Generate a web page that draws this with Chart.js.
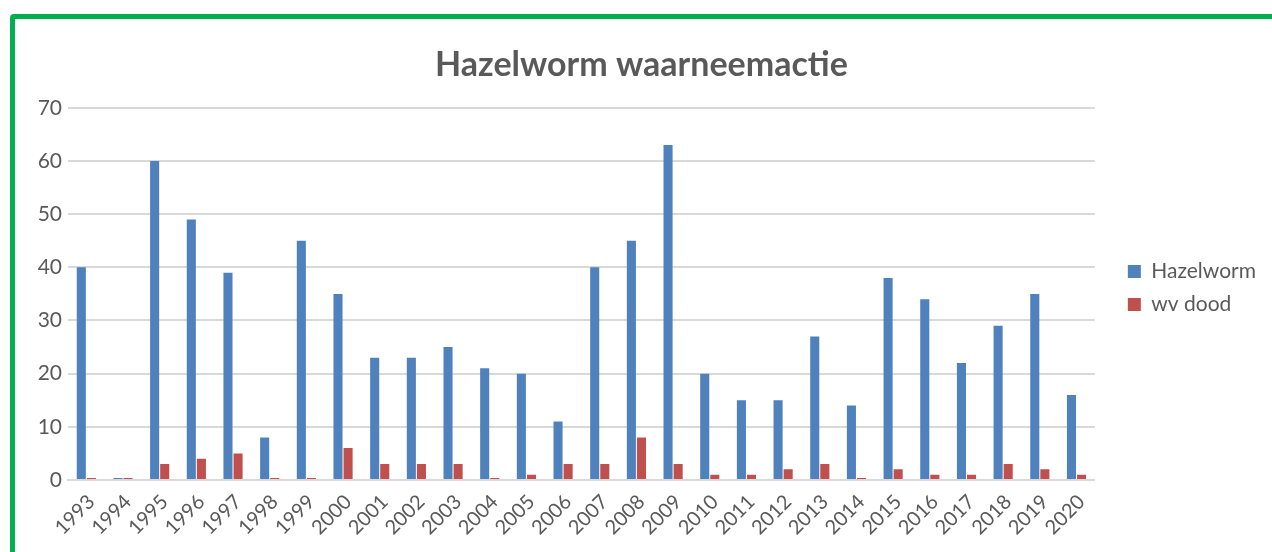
<!DOCTYPE html>
<html>
<head>
<meta charset="utf-8">
<script src="https://cdn.jsdelivr.net/npm/chart.js@4"></script>
<style>
  html, body { margin: 0; padding: 0; background: #fff; overflow: hidden; }
  #wrap { position: relative; width: 1272px; height: 552px; }
  #frame {
    position: absolute; left: 10px; top: 14px; width: 1300px; height: 600px;
    border: 5px solid #00b050; border-radius: 4px; pointer-events: none;
  }
  canvas { position: absolute; left: 0; top: 0; }
</style>
</head>
<body>
<div id="wrap">
  <canvas id="bar-chart" width="1272" height="552"></canvas>
  <div id="frame"></div>
</div>
<script>
const years = ['1993', '1994', '1995', '1996', '1997', '1998', '1999', '2000', '2001', '2002',
  '2003', '2004', '2005', '2006', '2007', '2008', '2009', '2010', '2011', '2012',
  '2013', '2014', '2015', '2016', '2017', '2018', '2019', '2020']
const hazelworm = [40, 0, 60, 49, 39, 8, 45, 35, 23, 23, 25, 21, 20, 11, 40, 45, 63, 20, 15, 15, 27, 14, 38, 34, 22, 29, 35, 16]
const wvDood = [0, 0, 3, 4, 5, 0, 0, 6, 3, 3, 3, 0, 1, 3, 3, 8, 3, 1, 1, 2, 3, 0, 2, 1, 1, 3, 2, 1]

const textColor = '#595959'
const gridColor = '#d9d9d9'

// shove legend and title a bit to the right, like Excel puts them
const nudge = {
  id: 'nudge',
  afterLayout(chart) {
    chart.legend.left += 21
    chart.legend.right += 21
    chart.legend.top += 12
    chart.legend.bottom += 12
    chart.titleBlock.left += 9
    chart.titleBlock.right += 9
  },
}

const ctx = document.getElementById('bar-chart').getContext('2d')
const myChart = new Chart(ctx, {
  type: 'bar',
  data: {
    labels: years,
    datasets: [
      {
        label: 'Hazelworm',
        data: hazelworm,
        backgroundColor: '#4f81bd',
        minBarLength: 2,
      },
      {
        label: 'wv dood',
        data: wvDood,
        backgroundColor: '#c0504d',
        minBarLength: 2,
      },
    ],
  },
  options: {
    responsive: false,
    animation: false,
    categoryPercentage: 0.55,
    barPercentage: 0.9,
    layout: { padding: { left: 20, right: 27, top: 0, bottom: 0 } },
    plugins: {
      title: {
        display: true,
        text: 'Hazelworm waarneemactie',
        color: textColor,
        font: { family: 'Lato', size: 34, weight: 'bold', lineHeight: 1.2 },
        padding: { top: 45, bottom: 22 },
      },
      legend: {
        position: 'right',
        labels: {
          color: textColor,
          font: { family: 'Lato', size: 21 },
          boxWidth: 13,
          boxHeight: 13,
          padding: 12,
        },
      },
      tooltip: { enabled: false },
    },
    scales: {
      x: {
        grid: { display: false },
        border: { color: gridColor, width: 2 },
        ticks: {
          color: textColor,
          font: { family: 'Lato', size: 20 },
          autoSkip: false,
          minRotation: 45,
          maxRotation: 45,
          padding: 2,
          labelOffset: 5,
        },
        afterFit(scale) { scale.height = 72 },
      },
      y: {
        min: 0,
        max: 70,
        ticks: {
          stepSize: 10,
          color: textColor,
          font: { family: 'Lato', size: 21 },
          padding: 6,
        },
        grid: { color: gridColor, lineWidth: 2, drawTicks: false },
        border: { display: false },
        afterFit(scale) { scale.width = 48 },
      },
    },
  },
  plugins: [nudge],
})
</script>
</body>
</html>
